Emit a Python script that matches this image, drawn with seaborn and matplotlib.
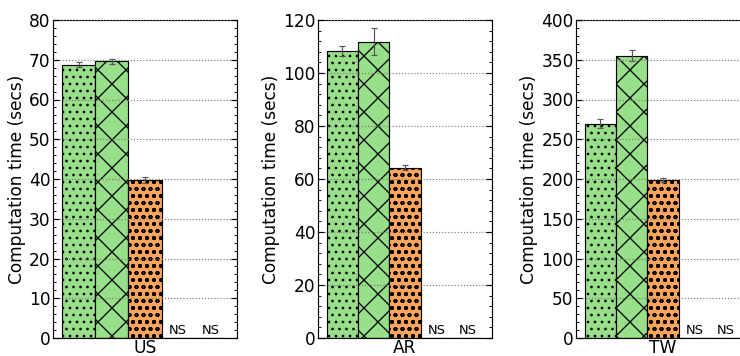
import matplotlib
matplotlib.use("Agg")
import matplotlib.pyplot as plt
from matplotlib.ticker import AutoMinorLocator, MultipleLocator
from matplotlib.container import BarContainer
import seaborn as sns
import pandas as pd

# ---- data ----
datasets = ["US", "AR", "TW"]
methods = ["Method 1", "Method 2", "Method 3", "Method 4", "Method 5"]
us_vals = [68.8, 69.6, 39.7, 0.0, 0.0]
ar_vals = [108.3, 111.8, 64.3, 0.0, 0.0]
tw_vals = [269.6, 355.0, 198.7, 0.0, 0.0]
us_err = [0.6, 0.6, 0.8, 0.0, 0.0]
ar_err = [2.0, 5.0, 0.9, 0.0, 0.0]
tw_err = [5.7, 7.0, 2.0, 0.0, 0.0]
not_supported = [False, False, False, True, True]
ylims = [80, 120, 400]
ymajor = [10, 20, 50]

colors = ["#98df8a", "#98df8a", "#fca55a", "#fca55a", "#fca55a"]
hatches = ["..", "x", "oo", "", ""]

vals = [us_vals, ar_vals, tw_vals]
errs = [us_err, ar_err, tw_err]

sns.set_style("ticks")
plt.rcParams["font.family"] = ["DejaVu Sans"]
plt.rcParams["hatch.linewidth"] = 1.1
for key in ["text.color", "axes.labelcolor", "xtick.color", "ytick.color"]:
    plt.rcParams[key] = "black"

DPI = 84
W, H = 740, 356
fig = plt.figure(figsize=(W / DPI, H / DPI), dpi=DPI)
fs = 17 * 72 / DPI
fs_ns = 13 * 72 / DPI

lefts = [53, 318, 576]
widths = [184, 174, 174]
ax_top, ax_bot = 20, 338

for k, name in enumerate(datasets):
    ax = fig.add_axes([lefts[k] / W, (H - ax_bot) / H, widths[k] / W, (ax_bot - ax_top) / H])
    df = pd.DataFrame({"dataset": [name] * len(methods), "method": methods, "time": vals[k]})
    sns.barplot(data=df, x="dataset", y="time", hue="method", hue_order=methods,
                palette=colors, width=0.9, edgecolor="black", linewidth=1.0,
                errorbar=None, legend=False, saturation=1, ax=ax)
    bar_conts = [c for c in ax.containers if isinstance(c, BarContainer)]
    for i, cont in enumerate(bar_conts):
        for p in cont.patches:
            p.set_hatch(hatches[i])
            cx = p.get_x() + p.get_width() / 2
            if not_supported[i]:
                ax.text(cx, ylims[k] * 0.004, "NS", ha="center", va="bottom", fontsize=fs_ns)
            else:
                ax.errorbar(cx, p.get_height(), yerr=errs[k][i], fmt="none",
                            ecolor="#555555", elinewidth=1.0, capsize=2.5, capthick=1.0)
    ax.set_xlim(-0.5, 0.5)
    ax.set_ylim(0, ylims[k])
    ax.yaxis.set_major_locator(MultipleLocator(ymajor[k]))
    ax.yaxis.set_minor_locator(AutoMinorLocator(5))
    ax.tick_params(axis="y", which="both", direction="in", left=True, right=True, labelsize=fs, pad=2)
    ax.tick_params(axis="y", which="major", length=5.5, width=1)
    ax.tick_params(axis="y", which="minor", length=2.5, width=0.8)
    ax.tick_params(axis="x", length=0, labelsize=fs, pad=1)
    ax.set_xlabel("")
    ax.set_ylabel("Computation time (secs)", fontsize=fs, labelpad=3)
    ax.yaxis.grid(True, linestyle=":", color="#777777", linewidth=1.0)
    ax.set_axisbelow(False)
    for s in ax.spines.values():
        s.set_visible(True)
        s.set_color("black")
        s.set_linewidth(1.0)

fig.savefig("out.png", dpi=DPI)
